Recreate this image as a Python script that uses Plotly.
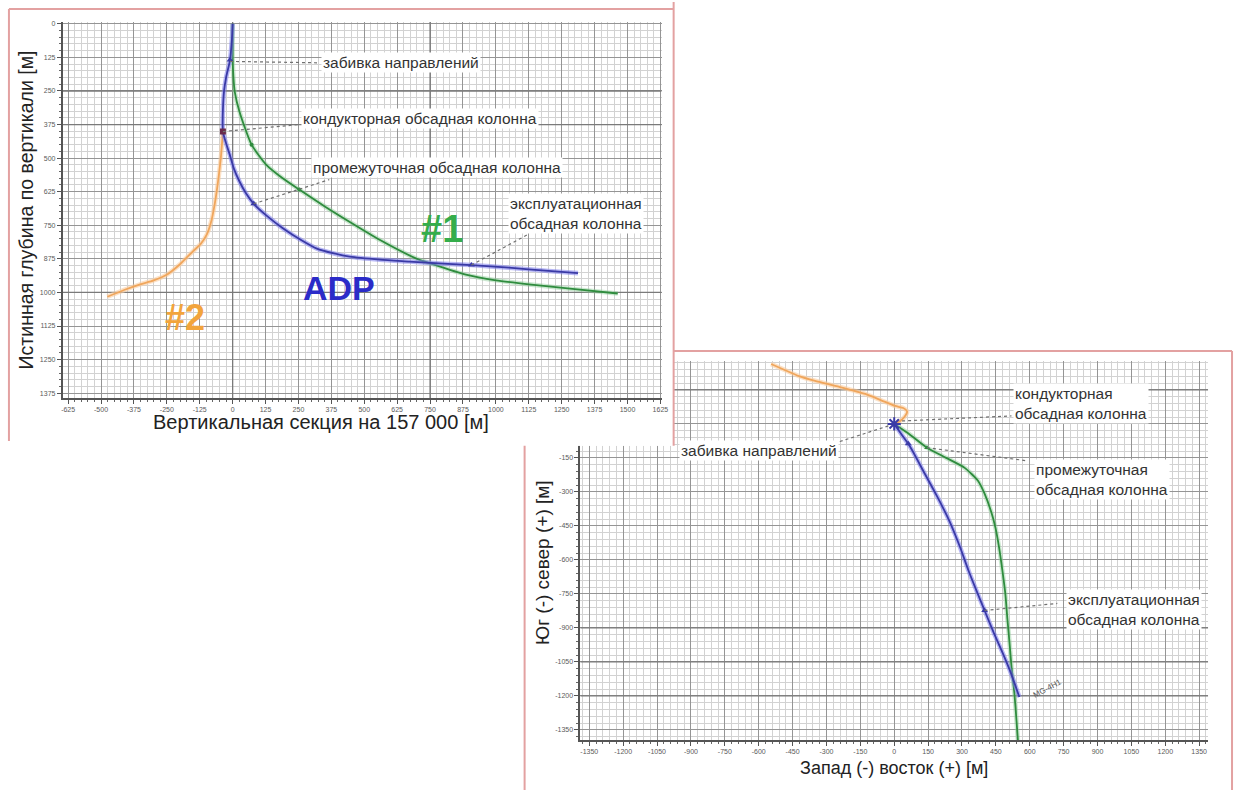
import plotly.graph_objects as go

# ---------------- vertical section (TVD vs. section displacement) ----------------
vs_adp_x = [0, -3, -10, -25, -33, -37, -38, -37, -25, -11, 5, 26, 50, 80, 130, 192, 260,
            320, 385, 445, 560, 671, 800, 907, 1050, 1200, 1312]
vs_adp_tvd = [0, 60, 135, 200, 253, 320, 375, 401, 445, 487, 540, 587, 630, 670, 715, 762,
              805, 837, 855, 867, 878, 885, 893, 898, 908, 920, 928]

vs_w1_x = [0, 0, 0, 3, 8, 26, 72, 128, 190, 253, 350, 442, 560, 698, 754, 886, 1000, 1135,
           1300, 1463]
vs_w1_tvd = [0, 60, 130, 200, 253, 327, 450, 525, 575, 617, 680, 736, 805, 874, 893, 934,
             955, 971, 988, 1004]

vs_w2_x = [-37, -40, -45, -52, -60, -68, -80, -98, -122, -151, -200, -249, -300, -351, -410,
           -476]
vs_w2_tvd = [401, 440, 500, 560, 620, 670, 730, 784, 820, 847, 895, 933, 955, 970, 990, 1016]

# casing points along the ADP well (section view)
vs_casing_x = [-10, 80, 907]
vs_casing_tvd = [135, 670, 898]
vs_conductor_x = [-37]
vs_conductor_tvd = [401]
vs_w1_marks_x = [72, 253]
vs_w1_marks_tvd = [450, 617]

# ---------------- plan view (north vs. east) ----------------
pl_adp_e = [0, 35, 70, 130, 190, 245, 290, 330, 368, 400, 440, 480, 515, 554]
pl_adp_n = [0, -50, -100, -210, -320, -430, -540, -650, -745, -823, -920, -1010, -1095, -1205]

pl_w1_e = [0, 60, 145, 230, 312, 370, 400, 430, 448, 465, 478, 492, 501, 510, 520, 532, 540, 548]
pl_w1_n = [0, -40, -105, -150, -194, -250, -308, -390, -457, -550, -640, -750, -860, -960,
           -1080, -1188, -1290, -1400]

pl_w2_e = [0, 25, 45, 57, 40, 4, -60, -128, -250, -350, -422, -490, -545]
pl_w2_n = [0, 12, 30, 55, 70, 79, 105, 132, 165, 190, 211, 240, 264]

pl_casing_e = [62, 400]
pl_casing_n = [-88, -823]

# ---------------- ticks ----------------
vs_xticks = list(range(-625, 1626, 125))
vs_yticks = list(range(0, 1376, 125))
pl_xticks = list(range(-1350, 1351, 150))
pl_yticks = list(range(-1350, 301, 150))

# emphasised grid lines
vs_heavy_x = [0, 750]
vs_heavy_tvd = [250, 375, 1000]
pl_heavy_n = [150, -900, -1050, -1200]


def labels(vals):
    return [str(v) for v in vals]


BLUE = "#3a3aa6"
BLUE_GLOW = "rgba(125,125,235,0.55)"
GREEN = "#2f8c3e"
GREEN_GLOW = "rgba(140,205,150,0.45)"
ORANGE = "#f0a65c"
ORANGE_GLOW = "rgba(250,205,160,0.6)"
LEADER = "#707070"
FRAME = "#e3a1a1"
TXT = "#333333"
FONT = "Liberation Sans, Arial, sans-serif"
NARROW = "Liberation Sans Narrow, Arial Narrow, Liberation Sans, Arial, sans-serif"

fig = go.Figure()


def well(x, y, color, glow, xa, ya, width=1.8):
    fig.add_trace(go.Scatter(x=x, y=y, mode="lines", line=dict(color=glow, width=width + 2.8,
                                                               shape="spline", smoothing=0.6),
                             xaxis=xa, yaxis=ya, hoverinfo="skip"))
    fig.add_trace(go.Scatter(x=x, y=y, mode="lines", line=dict(color=color, width=width,
                                                               shape="spline", smoothing=0.6),
                             xaxis=xa, yaxis=ya, hoverinfo="skip"))


def leader(x, y, xa, ya):
    fig.add_trace(go.Scatter(x=x, y=y, mode="lines",
                             line=dict(color=LEADER, width=1.2, dash="dot"),
                             xaxis=xa, yaxis=ya, hoverinfo="skip"))


# ---- plan view on x/y (drawn first, partly hidden behind the section panel) ----
well(pl_w2_e, pl_w2_n, ORANGE, ORANGE_GLOW, "x", "y")
well(pl_w1_e, pl_w1_n, GREEN, GREEN_GLOW, "x", "y")
well(pl_adp_e, pl_adp_n, BLUE, BLUE_GLOW, "x", "y")
fig.add_trace(go.Scatter(x=[0], y=[0], mode="markers", xaxis="x", yaxis="y",
                         marker=dict(symbol="asterisk-open", size=11, color=BLUE,
                                     line=dict(color=BLUE, width=2)), hoverinfo="skip"))
fig.add_trace(go.Scatter(x=pl_casing_e, y=pl_casing_n, mode="markers", xaxis="x", yaxis="y",
                         marker=dict(symbol="triangle-up", size=6, color=BLUE), hoverinfo="skip"))
fig.add_trace(go.Scatter(x=[145], y=[-105], mode="markers", xaxis="x", yaxis="y",
                         marker=dict(symbol="triangle-up", size=5, color=GREEN), hoverinfo="skip"))
leader([35, 519], [13, 35], "x", "y")
leader([-26, -260], [-9, -84], "x", "y")
leader([145, 590], [-105, -163], "x", "y")
leader([400, 722], [-823, -792], "x", "y")

# ---- white backing sheet for the section panel (x2/y2) ----
fig.add_trace(go.Scatter(x=[0.5], y=[0.5], mode="markers", xaxis="x2", yaxis="y2",
                         marker=dict(opacity=0), hoverinfo="skip"))

# ---- vertical section on x3/y3 ----
well(vs_w2_x, vs_w2_tvd, ORANGE, ORANGE_GLOW, "x3", "y3")
well(vs_w1_x, vs_w1_tvd, GREEN, GREEN_GLOW, "x3", "y3")
well(vs_adp_x, vs_adp_tvd, BLUE, BLUE_GLOW, "x3", "y3")
fig.add_trace(go.Scatter(x=vs_casing_x, y=vs_casing_tvd, mode="markers", xaxis="x3", yaxis="y3",
                         marker=dict(symbol="triangle-up", size=6, color=BLUE), hoverinfo="skip"))
fig.add_trace(go.Scatter(x=vs_conductor_x, y=vs_conductor_tvd, mode="markers", xaxis="x3",
                         yaxis="y3", marker=dict(symbol="square", size=6, color="#6a2a4a"),
                         hoverinfo="skip"))
fig.add_trace(go.Scatter(x=vs_w1_marks_x, y=vs_w1_marks_tvd, mode="markers", xaxis="x3",
                         yaxis="y3", marker=dict(symbol="circle", size=4, color=GREEN),
                         hoverinfo="skip"))
leader([-10, 321], [140, 145], "x3", "y3")
leader([-37, 253], [401, 375], "x3", "y3")
leader([80, 367], [670, 580], "x3", "y3")
leader([907, 1122], [898, 784], "x3", "y3")

tickfont = dict(family=FONT, size=7, color="#5a5a5a")
MAJOR = "#959595"
MINOR = "#d2d2d2"


def grid_axis(domain, rng, ticks, minor_dtick, anchor, title=None, standoff=0, size=18):
    ax = dict(
        domain=domain, range=rng, anchor=anchor,
        tickmode="array", tickvals=ticks, ticktext=labels(ticks), tickfont=tickfont,
        ticks="outside", ticklen=4, tickcolor="#555", tickwidth=1,
        showgrid=True, gridcolor=MAJOR, gridwidth=1, zeroline=False,
        showline=True, linecolor="#555", linewidth=1.5,
        minor=dict(tickmode="linear", tick0=0, dtick=minor_dtick, showgrid=True,
                   gridcolor=MINOR, gridwidth=1, ticks="outside", ticklen=2, tickcolor="#666"),
    )
    if title:
        ax["title"] = dict(text=title, font=dict(family=FONT, size=size, color="#222"),
                           standoff=standoff)
    return ax


W, H = 1243, 790
px = lambda v: v / W
py = lambda v: 1 - v / H

fig.update_layout(
    width=W, height=H, margin=dict(l=0, r=0, t=0, b=0),
    paper_bgcolor="white", plot_bgcolor="white", showlegend=False,
    xaxis=grid_axis([px(583), px(1215)], [-1390, 1390], pl_xticks, 30, "y",
                    "Запад (-) восток (+) [м]", 7, 18),
    yaxis=grid_axis([py(740), py(360)], [-1395, 277], pl_yticks, 30, "x"),
    xaxis2=dict(domain=[0, px(677)], range=[0, 1], visible=False, anchor="y2"),
    yaxis2=dict(domain=[py(445), 1], range=[0, 1], visible=False, anchor="x2"),
    xaxis3=grid_axis([px(62), px(665)], [-646, 1630], vs_xticks, 25, "y3"),
    yaxis3=grid_axis([py(397), py(20)], [1393, -7], vs_yticks, 25, "x3",
                     "Истинная глубина по вертикали [м]", 1, 19.5),
)

# axis captions placed off-centre
fig.add_annotation(text="Вертикальная секция на 157 000 [м]", x=px(322), y=py(421),
                   xref="paper", yref="paper", showarrow=False, xanchor="center",
                   yanchor="middle", font=dict(family=FONT, size=20, color="#222"))
fig.add_annotation(text="Юг (-) север (+) [м]", x=px(545), y=py(562), xref="paper",
                   yref="paper", showarrow=False, textangle=-90, xanchor="center",
                   yanchor="middle", font=dict(family=FONT, size=19, color="#222"))

HEAVY = "#7a7a7a"
shapes = [
    # white sheet of the section panel, drawn over the plan grid
    dict(type="rect", xref="x2", yref="y2", x0=0, x1=1, y0=0, y1=1,
         fillcolor="white", line=dict(width=0), layer="below"),
]
for v in vs_heavy_x:
    shapes.append(dict(type="line", xref="x3", yref="y3", x0=v, x1=v, y0=-7, y1=1393,
                       line=dict(color=HEAVY, width=1.3), layer="between"))
for v in vs_heavy_tvd:
    shapes.append(dict(type="line", xref="x3", yref="y3", x0=-646, x1=1630, y0=v, y1=v,
                       line=dict(color=HEAVY, width=1.3), layer="between"))
for v in pl_heavy_n:
    shapes.append(dict(type="line", xref="x", yref="y", x0=-1390, x1=1390, y0=v, y1=v,
                       line=dict(color=HEAVY, width=1.3), layer="between"))
# panel frames
frame = [
    (8, 7, 8, 440), (8, 7, 677, 7), (677, 0, 677, 445),
    (677, 350, 1239, 350), (1239, 350, 1239, 790), (527, 445, 527, 790),
]
for xa0, ya0, xa1, ya1 in frame:
    shapes.append(dict(type="line", xref="paper", yref="paper", x0=px(xa0), x1=px(xa1),
                       y0=py(ya0), y1=py(ya1), line=dict(color=FRAME, width=2), layer="above"))
fig.update_layout(shapes=shapes)


def note(text, x, y, xa, ya, xanchor="left", size=15.5):
    fig.add_annotation(text=text, x=x, y=y, xref=xa, yref=ya, xanchor=xanchor, yanchor="middle",
                       align="left", showarrow=False, bgcolor="white", borderpad=1,
                       font=dict(family=FONT, size=size, color=TXT))


# section panel labels
note("забивка направлений", 336, 143, "x3", "y3")
note("кондукторная обсадная колонна", 261, 353, "x3", "y3")
note("промежуточная обсадная колонна", 299, 535, "x3", "y3")
note("эксплуатационная<br>обсадная колонна", 1047, 706, "x3", "y3")

# plan panel labels
note("кондукторная<br>обсадная колонна", 524, 92, "x", "y")
note("забивка направлений", -246, -119, "x", "y", xanchor="right")
note("промежуточная<br>обсадная колонна", 620, -246, "x", "y")
note("эксплуатационная<br>обсадная колонна", 761, -818, "x", "y")
fig.add_annotation(text="MG-4H1", x=678, y=-1166, xref="x", yref="y", showarrow=False,
                   textangle=-28, font=dict(family=FONT, size=8, color="#555"))

# well names
fig.add_annotation(text="<b>#1</b>", x=794, y=765, xref="x3", yref="y3", showarrow=False,
                   font=dict(family=NARROW, size=38, color="#35ad4b"))
fig.add_annotation(text="<b>ADP</b>", x=404, y=985, xref="x3", yref="y3", showarrow=False,
                   font=dict(family=NARROW, size=34, color="#2b2bc8"))
fig.add_annotation(text="<b>#2</b>", x=-181, y=1093, xref="x3", yref="y3", showarrow=False,
                   font=dict(family=NARROW, size=36, color="#f2a43c"))

fig.write_html("out.html")
